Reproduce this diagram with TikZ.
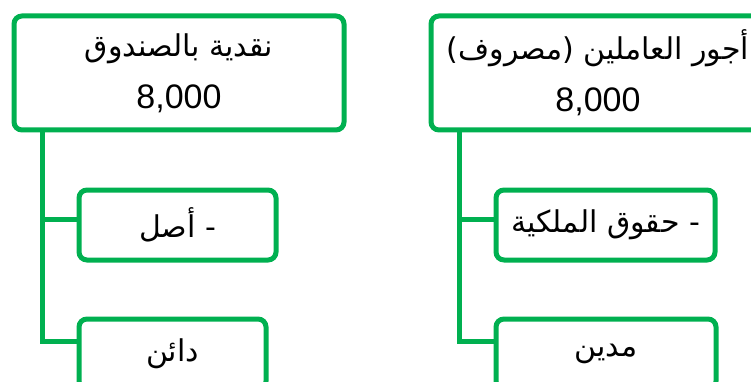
\documentclass[tikz,border=0pt]{standalone}
\usepackage{fontspec}
\setmainfont{Liberation Sans}
\newfontfamily\arabicfont[Script=Arabic]{DejaVu Sans}
\TeXXeTstate=1
\definecolor{boxgreen}{HTML}{00B050}
\newcommand{\artext}[1]{{\arabicfont\beginR #1\endR}}
\newcommand{\amount}[1]{{\fontsize{34}{52}\selectfont #1}}
\tikzset{
  acct/.style={draw=boxgreen,line width=5pt,rounded corners=8pt,align=center,
    minimum height=114pt,font=\fontsize{30}{52}\selectfont},
  side/.style={draw=boxgreen,line width=5pt,rounded corners=8pt,
    minimum height=70pt,font=\fontsize{30}{36}\selectfont},
  link/.style={draw=boxgreen,line width=5pt}
}
\begin{document}
\begin{tikzpicture}[x=1pt,y=-1pt]
\useasboundingbox (0,0) rectangle (751,382);
\clip (0,0) rectangle (751,382);
\node[acct,minimum width=330pt] (cash) at (179,73) {\artext{نقدية بالصندوق}\\\amount{8,000}};
\node[acct,minimum width=334pt] (wages) at (598,73) {\artext{أجور العاملين (مصروف)}\\\amount{8,000}};
\node[side,minimum width=197pt] (asset) at (177.5,225) {\artext{- أصل}};
\node[side,minimum width=187pt] (credit) at (172.5,354) {\artext{دائن}};
\node[side,minimum width=219pt] (equity) at (605.5,225) {\artext{- حقوق الملكية}};
\node[side,minimum width=220pt] (debit) at (606,354) {\artext{مدين}};
\coordinate (cashtrunk) at ([xshift=31pt]cash.south west);
\coordinate (wagestrunk) at ([xshift=31pt]wages.south west);
\draw[link] (cashtrunk) |- ([yshift=6pt]asset.west);
\draw[link] (cashtrunk) |- ([yshift=13pt]credit.west);
\draw[link] (wagestrunk) |- ([yshift=6pt]equity.west);
\draw[link] (wagestrunk) |- ([yshift=13pt]debit.west);
\end{tikzpicture}
\end{document}
